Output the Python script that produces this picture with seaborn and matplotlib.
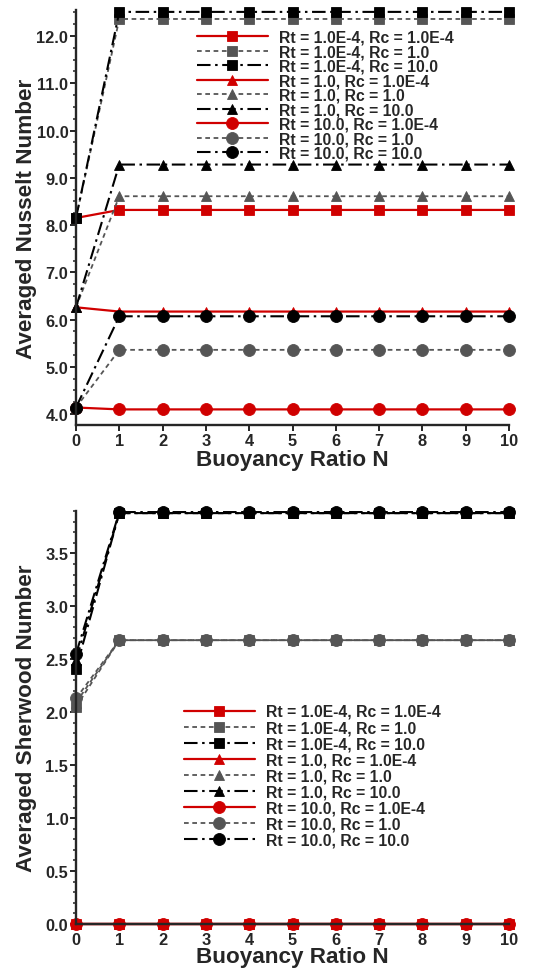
import matplotlib
matplotlib.use("Agg")
import matplotlib.pyplot as plt
import seaborn as sns
import pandas as pd
from matplotlib.ticker import MultipleLocator, FormatStrFormatter

# ---------------- data ----------------
N = [0, 1, 2, 3, 4, 5, 6, 7, 8, 9, 10]

series_labels = [
    "Rt = 1.0E-4, Rc = 1.0E-4",
    "Rt = 1.0E-4, Rc = 1.0",
    "Rt = 1.0E-4, Rc = 10.0",
    "Rt = 1.0, Rc = 1.0E-4",
    "Rt = 1.0, Rc = 1.0",
    "Rt = 1.0, Rc = 10.0",
    "Rt = 10.0, Rc = 1.0E-4",
    "Rt = 10.0, Rc = 1.0",
    "Rt = 10.0, Rc = 10.0",
]

# Averaged Nusselt number
nu_rt1e4_rc1e4 = [8.15, 8.32, 8.32, 8.32, 8.32, 8.32, 8.32, 8.32, 8.32, 8.32, 8.32]
nu_rt1e4_rc1 = [8.15, 12.36, 12.36, 12.36, 12.36, 12.36, 12.36, 12.36, 12.36, 12.36, 12.36]
nu_rt1e4_rc10 = [8.15, 12.51, 12.51, 12.51, 12.51, 12.51, 12.51, 12.51, 12.51, 12.51, 12.51]
nu_rt1_rc1e4 = [6.26, 6.17, 6.17, 6.17, 6.17, 6.17, 6.17, 6.17, 6.17, 6.17, 6.17]
nu_rt1_rc1 = [6.26, 8.61, 8.61, 8.61, 8.61, 8.61, 8.61, 8.61, 8.61, 8.61, 8.61]
nu_rt1_rc10 = [6.26, 9.28, 9.28, 9.28, 9.28, 9.28, 9.28, 9.28, 9.28, 9.28, 9.28]
nu_rt10_rc1e4 = [4.14, 4.10, 4.10, 4.10, 4.10, 4.10, 4.10, 4.10, 4.10, 4.10, 4.10]
nu_rt10_rc1 = [4.14, 5.36, 5.36, 5.36, 5.36, 5.36, 5.36, 5.36, 5.36, 5.36, 5.36]
nu_rt10_rc10 = [4.14, 6.07, 6.07, 6.07, 6.07, 6.07, 6.07, 6.07, 6.07, 6.07, 6.07]

# Averaged Sherwood number
sh_rt1e4_rc1e4 = [0.0, 0.0, 0.0, 0.0, 0.0, 0.0, 0.0, 0.0, 0.0, 0.0, 0.0]
sh_rt1e4_rc1 = [2.05, 2.68, 2.68, 2.68, 2.68, 2.68, 2.68, 2.68, 2.68, 2.68, 2.68]
sh_rt1e4_rc10 = [2.41, 3.88, 3.88, 3.88, 3.88, 3.88, 3.88, 3.88, 3.88, 3.88, 3.88]
sh_rt1_rc1e4 = [0.0, 0.0, 0.0, 0.0, 0.0, 0.0, 0.0, 0.0, 0.0, 0.0, 0.0]
sh_rt1_rc1 = [2.09, 2.68, 2.68, 2.68, 2.68, 2.68, 2.68, 2.68, 2.68, 2.68, 2.68]
sh_rt1_rc10 = [2.49, 3.88, 3.88, 3.88, 3.88, 3.88, 3.88, 3.88, 3.88, 3.88, 3.88]
sh_rt10_rc1e4 = [0.0, 0.0, 0.0, 0.0, 0.0, 0.0, 0.0, 0.0, 0.0, 0.0, 0.0]
sh_rt10_rc1 = [2.13, 2.68, 2.68, 2.68, 2.68, 2.68, 2.68, 2.68, 2.68, 2.68, 2.68]
sh_rt10_rc10 = [2.55, 3.89, 3.89, 3.89, 3.89, 3.89, 3.89, 3.89, 3.89, 3.89, 3.89]

nu_series = [nu_rt1e4_rc1e4, nu_rt1e4_rc1, nu_rt1e4_rc10,
             nu_rt1_rc1e4, nu_rt1_rc1, nu_rt1_rc10,
             nu_rt10_rc1e4, nu_rt10_rc1, nu_rt10_rc10]
sh_series = [sh_rt1e4_rc1e4, sh_rt1e4_rc1, sh_rt1e4_rc10,
             sh_rt1_rc1e4, sh_rt1_rc1, sh_rt1_rc10,
             sh_rt10_rc1e4, sh_rt10_rc1, sh_rt10_rc10]

# ---------------- styles ----------------
RED = "#d00000"
GRAY = "#555555"
BLACK = "#000000"
colors = [RED, GRAY, BLACK] * 3
linestyles = ["-", (0, (2.6, 2.0)), (0, (6.5, 2.2, 1.2, 2.2))] * 3
linewidths = [1.6, 1.3, 1.5] * 3
markers = ["s"] * 3 + ["^"] * 3 + ["o"] * 3
msizes = [6.8] * 3 + [7.0] * 3 + [8.6] * 3

sns.set_style("ticks")
plt.rcParams["font.family"] = ["Liberation Sans", "DejaVu Sans"]
plt.rcParams["font.weight"] = "bold"
plt.rcParams["axes.labelweight"] = "bold"

fig = plt.figure(figsize=(5.48, 9.70), dpi=100)
W, H = 548.0, 970.0
ax1 = fig.add_axes([76 / W, 1 - 426 / H, 433 / W, (426 - 11) / H])
ax2 = fig.add_axes([76 / W, 1 - 925 / H, 433 / W, (925 - 512) / H])


def draw(ax, data_list):
    for vals, lab, c, ls, lw, mk, ms in zip(data_list, series_labels, colors,
                                            linestyles, linewidths, markers, msizes):
        df = pd.DataFrame({"N": N, "v": vals})
        sns.lineplot(data=df, x="N", y="v", ax=ax, color=c, linestyle=ls,
                     linewidth=lw, marker=mk, markersize=ms,
                     markeredgecolor=c, markerfacecolor=c, markeredgewidth=0.6,
                     label=lab, clip_on=False, legend=False)


draw(ax1, nu_series)
draw(ax2, sh_series)

for ax in (ax1, ax2):
    sns.despine(ax=ax)
    ax.spines["left"].set_linewidth(1.7)
    ax.spines["bottom"].set_linewidth(1.7)
    ax.set_xlim(0, 10)
    ax.xaxis.set_major_locator(MultipleLocator(1))
    ax.tick_params(axis="both", which="major", direction="out", length=4,
                   width=1.4, labelsize=11.8, pad=1.5)
    ax.tick_params(axis="y", which="minor", direction="out", length=2.5, width=1.1)
    ax.set_xlabel("Buoyancy Ratio N", fontsize=16.2, fontweight="bold")

ax1.xaxis.set_label_coords(0.5, -0.057)
ax2.xaxis.set_label_coords(0.5, -0.054)

ax1.set_ylim(3.77, 12.55)
ax1.yaxis.set_major_locator(MultipleLocator(1.0))
ax1.yaxis.set_minor_locator(MultipleLocator(0.25))
ax1.yaxis.set_major_formatter(FormatStrFormatter("%.1f"))
ax1.set_ylabel("Averaged Nusselt Number", fontsize=16.2, fontweight="bold")

ax2.set_ylim(0.0, 3.9)
ax2.yaxis.set_major_locator(MultipleLocator(0.5))
ax2.yaxis.set_minor_locator(MultipleLocator(0.1))
ax2.yaxis.set_major_formatter(FormatStrFormatter("%.1f"))
ax2.set_ylabel("Averaged Sherwood Number", fontsize=16.2, fontweight="bold")

for ax in (ax1, ax2):
    ax.yaxis.set_label_coords(-0.089, 0.5)
    for t in ax.get_xticklabels() + ax.get_yticklabels():
        t.set_fontweight("bold")

leg1 = ax1.legend(loc="upper left", bbox_to_anchor=(197 / W, 1 - 30.5 / H),
                  bbox_transform=fig.transFigure, frameon=False,
                  prop={"size": 11.3, "weight": "bold"}, handlelength=4.5,
                  handletextpad=0.7, labelspacing=-0.03, borderpad=0, borderaxespad=0)
leg2 = ax2.legend(loc="upper left", bbox_to_anchor=(184 / W, 1 - 705 / H),
                  bbox_transform=fig.transFigure, frameon=False,
                  prop={"size": 11.3, "weight": "bold"}, handlelength=4.5,
                  handletextpad=0.7, labelspacing=0.066, borderpad=0, borderaxespad=0)

fig.savefig("out.png", dpi=100)
